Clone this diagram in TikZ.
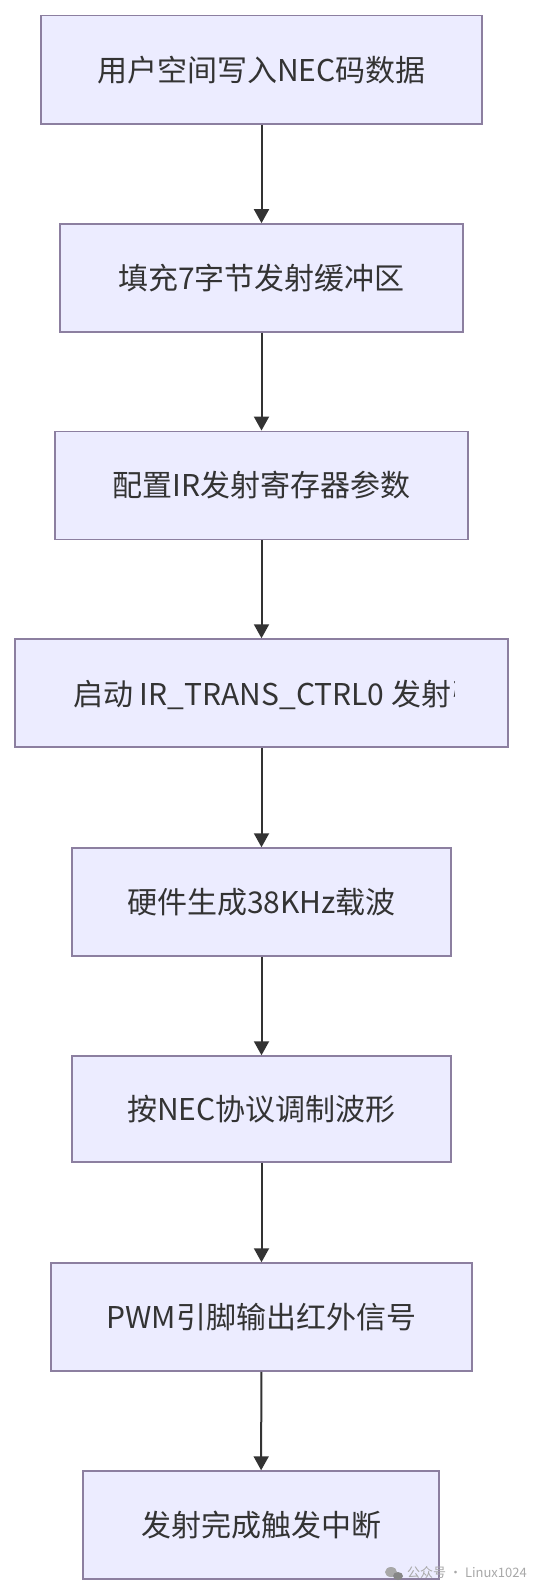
\documentclass[tikz,border=0pt]{standalone}
\usepackage{fontspec}
\setmainfont{Noto Sans CJK SC}
\usetikzlibrary{arrows.meta}
\definecolor{boxfill}{HTML}{ECECFF}
\definecolor{boxdraw}{HTML}{8C7FA0}
\definecolor{txt}{HTML}{333333}
\definecolor{wm}{HTML}{A8A8A8}
\begin{document}
\begin{tikzpicture}[x=1pt,y=-1pt,
  box/.style={draw=boxdraw, line width=1.5pt, fill=boxfill, minimum height=108pt, inner sep=0pt, text=txt, font=\fontsize{30}{34}\selectfont},
  lbl/.style={inner sep=0pt, text=txt, font=\fontsize{30}{34}\selectfont},
  flow/.style={draw=txt, line width=2pt, -{Triangle[width=15pt,length=14pt]}},
  wmtext/.style={inner sep=0pt, text=wm, font=\fontsize{13}{15}\selectfont}]
\useasboundingbox (0,0) rectangle (552,1596);
\fill[white] (0,0) rectangle (552,1596);
\node[box, minimum width=441pt, minimum height=108.5pt] (n1) at (261.5,69.75) {用户空间写入NEC码数据};
\node[box, minimum width=403pt] (n2) at (261.5,277.9) {填充7字节发射缓冲区};
\node[box, minimum width=413pt] (n3) at (261.5,485.3) {配置IR发射寄存器参数};
\node[box, minimum width=493pt] (n4) at (261.5,693) {};
\begin{scope}
  \clip (15,640) rectangle (454,746);
  \node[lbl, anchor=west] (t4) at (73,695) {启动 IR\_TRANS\_CTRL0 发射引擎};
\end{scope}
\node[box, minimum width=379pt] (n5) at (261.5,902) {硬件生成38KHz载波};
\node[box, minimum width=379pt, minimum height=106pt] (n6) at (261.5,1109) {按NEC协议调制波形};
\node[box, minimum width=421pt] (n7) at (261.5,1317) {PWM引脚输出红外信号};
\node[box, minimum width=356pt] (n8) at (261,1525) {发射完成触发中断};
\draw[flow] (n1) -- (n2);
\draw[flow] (n2) -- (n3);
\draw[flow] (n3) -- (n4);
\draw[flow] (n4) -- (n5);
\draw[flow] (n5) -- (n6);
\draw[flow] (n6) -- (n7);
\draw[flow] (n7) -- (n8);
\fill[wm] (391,1572) ellipse (6pt and 5pt);
\fill[wm!80!black] (398,1576) ellipse (5pt and 4pt);
\node[wmtext, anchor=west] (wmark) at (407,1573) {公众号 · Linux1024};
\end{tikzpicture}
\end{document}
